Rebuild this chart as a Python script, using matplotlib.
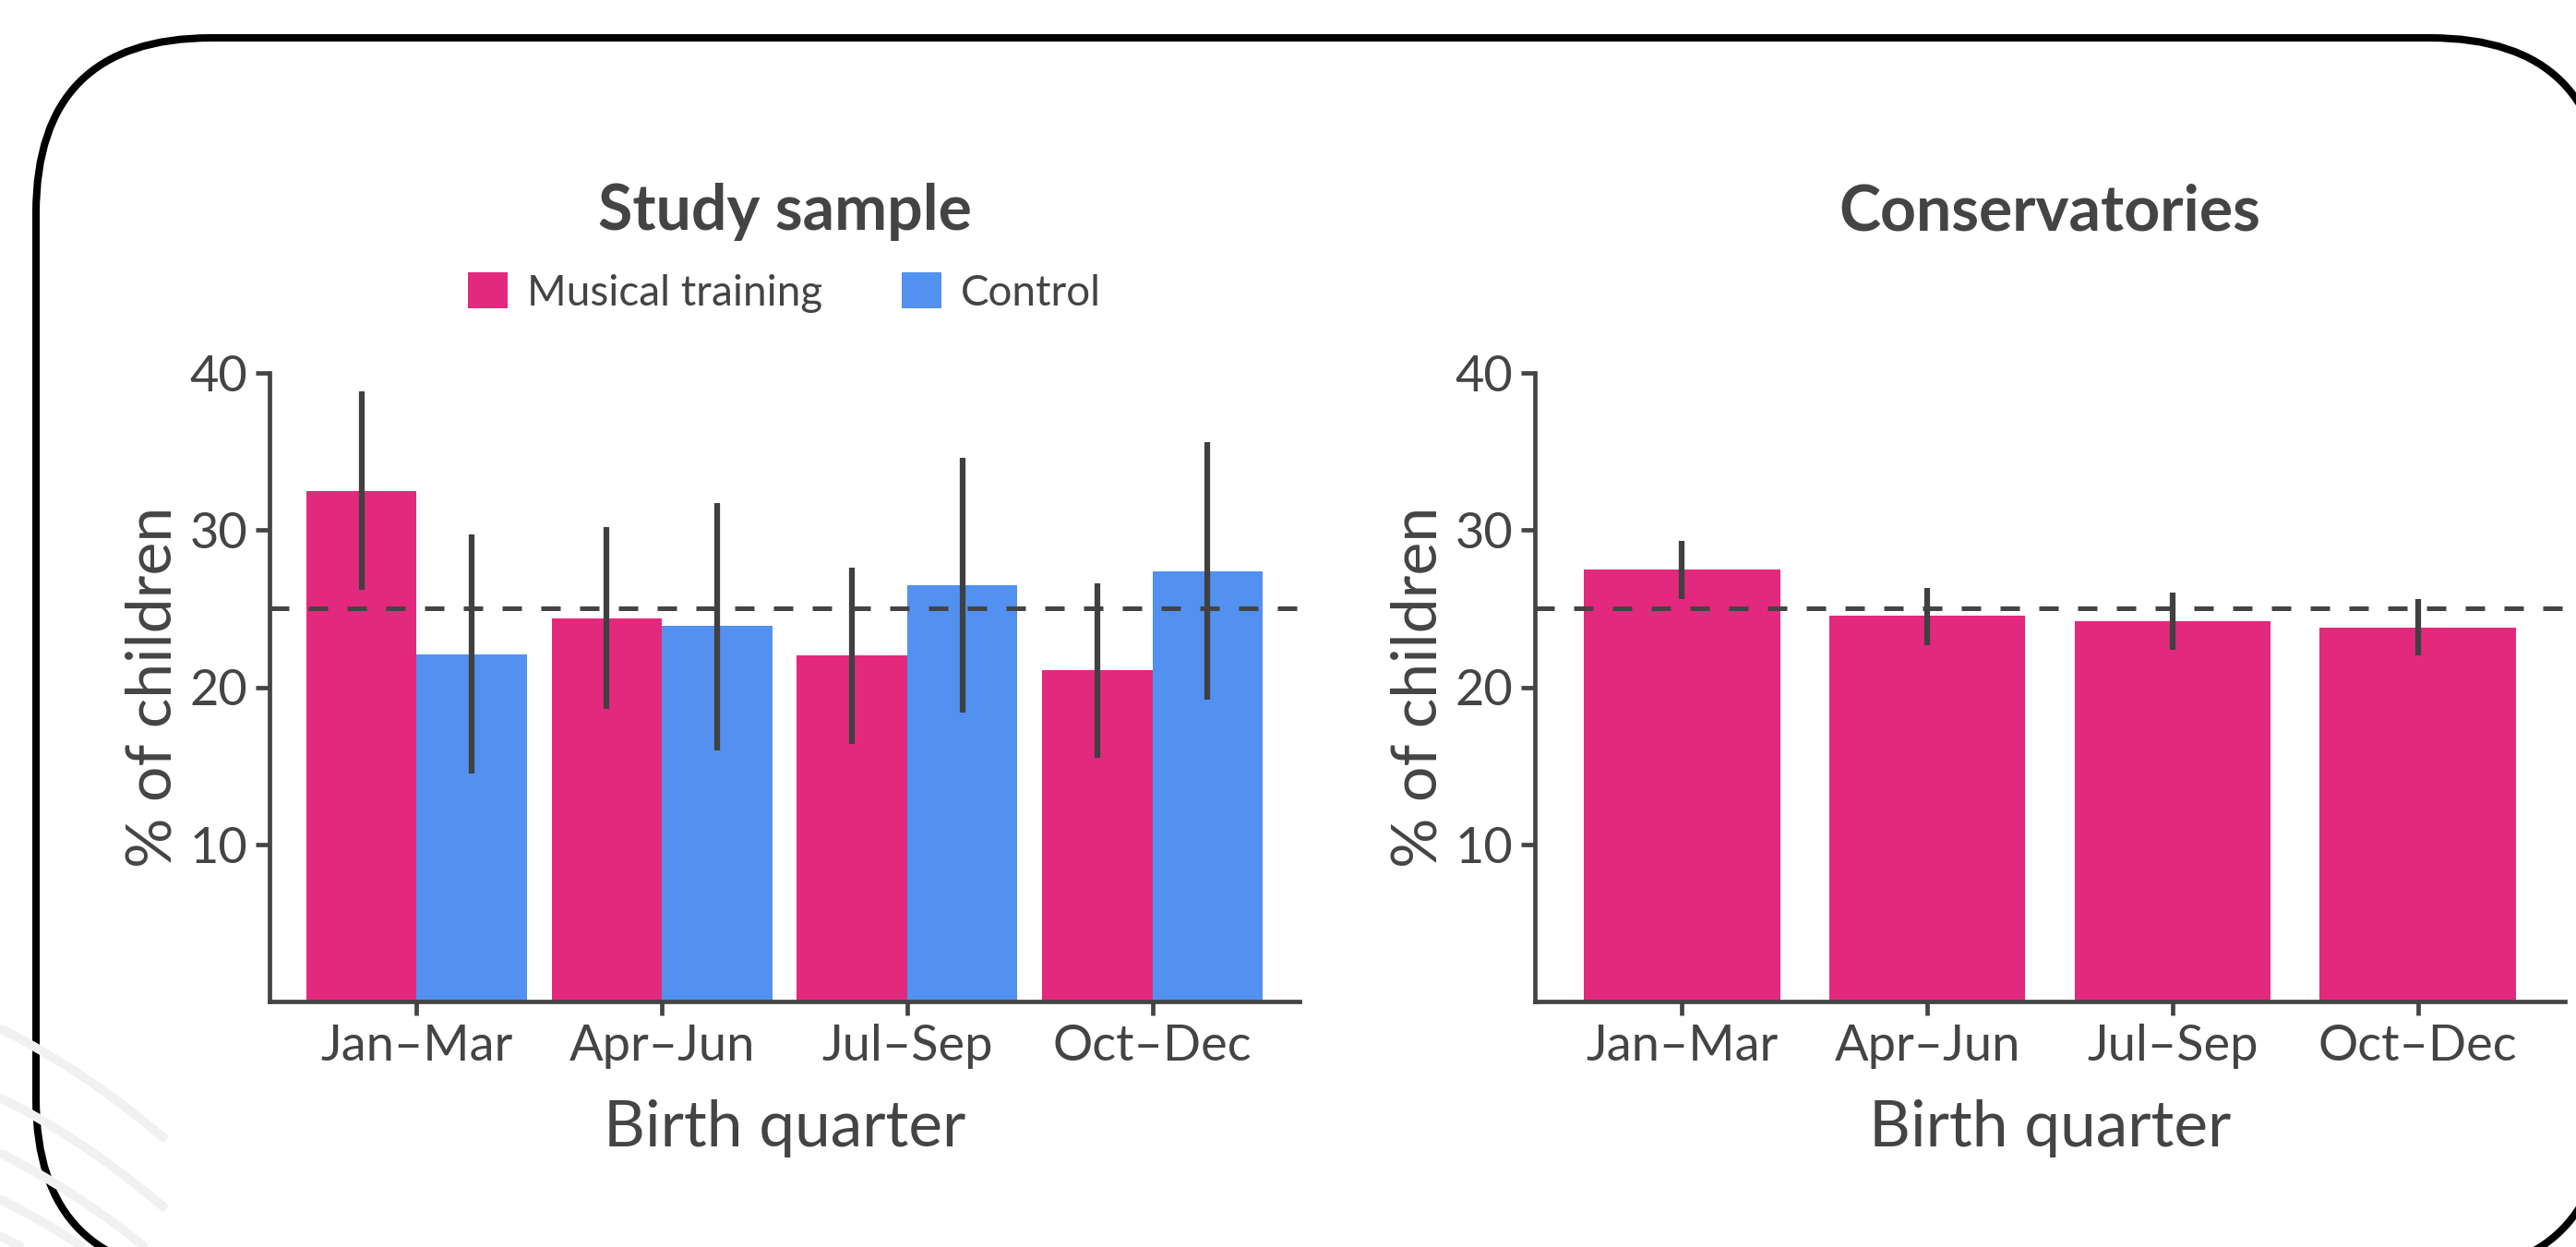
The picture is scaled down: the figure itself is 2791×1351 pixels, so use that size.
import numpy as np
import matplotlib.pyplot as plt
from matplotlib.patches import FancyBboxPatch

plt.rcParams['font.family'] = ['Lato', 'DejaVu Sans']

quarters = ['Jan–Mar', 'Apr–Jun', 'Jul–Sep', 'Oct–Dec']

# study sample: musical training vs control (% of children, with CI)
music = [32.5, 24.4, 22.0, 21.1]
music_lo = [26.2, 18.6, 16.4, 15.5]
music_hi = [38.8, 30.2, 27.6, 26.6]
control = [22.1, 23.9, 26.5, 27.4]
control_lo = [14.5, 16.0, 18.4, 19.2]
control_hi = [29.7, 31.7, 34.6, 35.6]

# conservatories
conserv = [27.5, 24.55, 24.2, 23.8]
conserv_lo = [25.6, 22.7, 22.4, 22.0]
conserv_hi = [29.3, 26.3, 26.0, 25.6]

chance = 25

pink = '#E3297D'
blue = '#5291EF'
grey = '#444444'

W, H = 2791, 1351
fig = plt.figure(figsize=(W / 100, H / 100), dpi=100)

# slide background + rounded frame
bg = fig.add_axes([0, 0, 1, 1])
bg.set_xlim(0, W)
bg.set_ylim(H, 0)
bg.axis('off')
t = np.linspace(0, 1, 50)
for y0 in [1105, 1180, 1240, 1290, 1330]:
    bg.plot(-20 + 200 * t, y0 + 90 * t + 40 * t ** 2, color='#f1f1f1', lw=7, solid_capstyle='butt')
frame = FancyBboxPatch((39, 41), 2823 - 39, 1380 - 41,
                       boxstyle='round,pad=0,rounding_size=190',
                       lw=5.8, ec='black', fc='white')
bg.add_patch(frame)


def style_axes(ax):
    ax.set_xlim(-0.6, 3.6)
    ax.set_ylim(0, 40)
    ax.set_yticks([10, 20, 30, 40])
    ax.set_xticks(range(4))
    ax.set_xticklabels(quarters)
    for s in ['top', 'right']:
        ax.spines[s].set_visible(False)
    for s in ['left', 'bottom']:
        ax.spines[s].set_color(grey)
        ax.spines[s].set_linewidth(3.4)
    ax.tick_params(colors=grey, labelcolor=grey, width=3.4, length=11,
                   labelsize=39, pad=6)
    ax.axhline(chance, color=grey, lw=3.6, ls=(0, (4.2, 4.2)), zorder=4)
    ax.set_xlabel('Birth quarter', fontsize=50, color=grey)
    ax.set_ylabel('% of children', fontsize=49, color=grey)
    ax.xaxis.set_label_coords(0.5, -0.155)
    ax.yaxis.set_label_coords(-0.085, 0.5)
    ax.set_facecolor('none')


x = np.arange(len(quarters))

ax1 = fig.add_axes([292 / W, (H - 1085) / H, 1116 / W, 681 / H])
ax1.bar(x - 0.225, music, width=0.45, color=pink, label='Musical training', zorder=2)
ax1.bar(x + 0.225, control, width=0.45, color=blue, label='Control', zorder=2)
ax1.vlines(x - 0.225, music_lo, music_hi, color='#404040', lw=4.5, zorder=5)
ax1.vlines(x + 0.225, control_lo, control_hi, color='#404040', lw=4.5, zorder=5)
style_axes(ax1)
ax1.text(0.5, 1.2276, 'Study sample', transform=ax1.transAxes, ha='center',
         va='baseline', fontsize=49, fontweight='bold', color=grey)
ax1.legend(loc='center', bbox_to_anchor=(0.5, 1.128), ncol=2, frameon=False,
           fontsize=33, handlelength=0.94, handleheight=0.94, handletextpad=0.46,
           columnspacing=1.88, labelcolor=grey)

ax2 = fig.add_axes([1663 / W, (H - 1085) / H, 1116 / W, 681 / H])
ax2.bar(x, conserv, width=0.8, color=pink, zorder=2)
ax2.vlines(x, conserv_lo, conserv_hi, color='#404040', lw=4.5, zorder=5)
style_axes(ax2)
ax2.text(0.5, 1.2276, 'Conservatories', transform=ax2.transAxes, ha='center',
         va='baseline', fontsize=49, fontweight='bold', color=grey)

fig.savefig('out.png', dpi=100)
